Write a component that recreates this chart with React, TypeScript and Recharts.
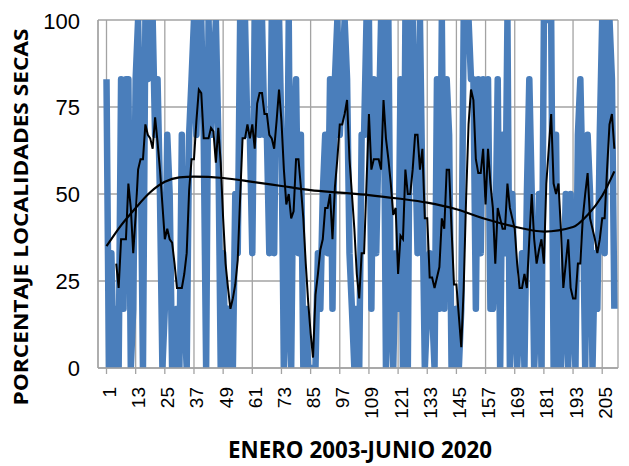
import React from 'react';
import { LineChart, Line, XAxis, YAxis, CartesianGrid, Customized } from 'recharts';

// Monthly share of dry localities, January 2003 to June 2020 (210 months)
const pctSecas: number[] = [
  83, 0, 33, 0, 17, 0, 83, 17, 83, 83,
  0, 17, 83, 100, 67, 0, 100, 83, 100, 100,
  67, 83, 50, 0, 17, 67, 50, 0, 0, 17,
  0, 67, 17, 0, 67, 83, 100, 67, 100, 100,
  67, 0, 100, 67, 83, 100, 67, 0, 33, 0,
  17, 0, 0, 50, 33, 100, 67, 100, 67, 67,
  33, 100, 100, 67, 100, 67, 67, 33, 100, 33,
  100, 100, 67, 0, 17, 100, 0, 67, 83, 33,
  67, 0, 17, 0, 0, 0, 0, 33, 17, 50,
  67, 33, 83, 17, 83, 100, 67, 83, 100, 83,
  33, 17, 0, 17, 0, 67, 67, 100, 100, 17,
  83, 33, 67, 100, 100, 0, 100, 17, 0, 33,
  17, 83, 0, 100, 0, 100, 100, 67, 33, 100,
  50, 0, 17, 33, 17, 0, 83, 17, 100, 17,
  83, 67, 0, 0, 17, 0, 17, 100, 100, 100,
  83, 83, 17, 83, 33, 83, 50, 83, 17, 17,
  33, 83, 0, 67, 33, 100, 0, 50, 17, 0,
  17, 33, 0, 50, 83, 50, 0, 17, 50, 0,
  100, 100, 100, 100, 0, 67, 0, 0, 17, 50,
  0, 50, 17, 0, 67, 83, 50, 0, 67, 50,
  0, 33, 17, 67, 100, 33, 100, 100, 83, 17,
];

// Moving average (black thin line); the first months have no value
const mediaMovil: (number | null)[] = [
  null, null, null, null, 30, 23, 37, 37, 37, 53,
  46, 33, 44, 57, 60, 60, 70, 67, 66, 63,
  72, 65, 57, 47, 37, 40, 37, 36, 30, 23,
  23, 23, 27, 33, 51, 60, 60, 71, 80, 79,
  66, 66, 66, 69, 68, 59, 69, 59, 43, 30,
  23, 17, 20, 24, 31, 49, 66, 66, 70, 66,
  70, 63, 76, 79, 79, 73, 73, 67, 66, 63,
  71, 80, 71, 57, 47, 50, 43, 45, 60, 60,
  52, 43, 30, 19, 10, 3, 21, 27, 34, 37,
  46, 46, 50, 37, 52, 60, 70, 70, 73, 77,
  60, 50, 40, 27, 20, 33, 33, 53, 73, 57,
  60, 60, 60, 57, 77, 66, 60, 53, 44, 46,
  27, 38, 37, 57, 50, 50, 57, 67, 67, 57,
  63, 43, 43, 26, 26, 23, 26, 29, 43, 40,
  57, 57, 40, 24, 24, 15, 6, 23, 49, 70,
  80, 77, 60, 56, 56, 63, 47, 63, 53, 46,
  30, 46, 43, 40, 40, 53, 46, 43, 40, 30,
  23, 23, 27, 23, 37, 50, 37, 30, 34, 37,
  30, 53, 63, 73, 53, 50, 53, 40, 23, 30,
  37, 23, 20, 20, 30, 30, 43, 50, 56, 43,
  40, 37, 33, 37, 43, 43, 57, 70, 73, 63,
];

// Long-term trend, sampled at selected months
const tendenciaMeses: number[] = [1, 7, 13, 19, 25, 31, 37, 49, 61, 73, 85, 97, 109, 121, 133, 145, 157, 169, 181, 193, 199, 205, 210];
const tendenciaValores: number[] = [35, 41, 46, 50.5, 53.5, 54.8, 55, 54.6, 53.5, 52.3, 51.1, 50.4, 49.7, 48.7, 47.5, 45.6, 42.8, 40.6, 39.2, 40.5, 44, 49.5, 56.5];

const xTicks: number[] = [1, 13, 25, 37, 49, 61, 73, 85, 97, 109, 121, 133, 145, 157, 169, 181, 193, 205];
const yTicks: number[] = [0, 25, 50, 75, 100];

const tituloX = 'ENERO 2003-JUNIO 2020';
const tituloY = 'PORCENTAJE LOCALIDADES SECAS';

const data = pctSecas.map((v, i) => {
  const mes = i + 1;
  const k = tendenciaMeses.indexOf(mes);
  return {
    mes,
    pct: v,
    media: mediaMovil[i],
    tendencia: k >= 0 ? tendenciaValores[k] : null,
  };
});

const GRID = '#A3A3A3';
const BLUE = '#4A7EBB';

const XTick = (props: any) => {
  const { x, y, payload } = props;
  return (
    <text
      transform={`translate(${x + 3},${y}) rotate(-90)`}
      textAnchor="end"
      dominantBaseline="central"
      fontFamily="Liberation Sans, Arial, sans-serif"
      fontSize={19}
      fill="#000"
    >
      {payload.value}
    </text>
  );
};

const Titles = () => (
  <g fontFamily="Open Sans, Liberation Sans, sans-serif" fontWeight="bold" fill="#000">
    <text
      x={352}
      y={450}
      textAnchor="middle"
      fontSize={23}
      textLength={264}
      lengthAdjust="spacingAndGlyphs"
    >
      {tituloX}
    </text>
    <text
      x={20}
      y={209}
      transform="rotate(-90 20 209)"
      textAnchor="middle"
      fontSize={20}
      textLength={377}
      lengthAdjust="spacingAndGlyphs"
    >
      {tituloY}
    </text>
  </g>
);

export default function App() {
  return (
    <LineChart
      width={621}
      height={458}
      data={data}
      margin={{ top: 12, right: 11, left: 0, bottom: 38 }}
    >
      <CartesianGrid stroke={GRID} strokeWidth={1.3} />
      <XAxis
        dataKey="mes"
        type="number"
        domain={[-2.5, 211.5]}
        ticks={xTicks}
        interval={0}
        height={60}
        tickSize={6}
        tickMargin={13}
        axisLine={{ stroke: GRID, strokeWidth: 1.3 }}
        tickLine={{ stroke: GRID, strokeWidth: 1.3 }}
        tick={<XTick />}
      />
      <YAxis
        type="number"
        domain={[0, 100]}
        ticks={yTicks}
        allowDataOverflow
        width={90}
        tickLine={false}
        tickMargin={12}
        axisLine={{ stroke: GRID, strokeWidth: 1.3 }}
        tick={{ fill: '#000', fontSize: 22, fontFamily: 'Liberation Sans, Arial, sans-serif' }}
      />
      <Line
        type="linear"
        dataKey="pct"
        stroke={BLUE}
        strokeWidth={6.5}
        strokeLinejoin="round"
        dot={false}
        activeDot={false}
        isAnimationActive={false}
      />
      <Line
        type="linear"
        dataKey="media"
        stroke="#000"
        strokeWidth={2}
        dot={false}
        activeDot={false}
        isAnimationActive={false}
      />
      <Line
        type="monotone"
        dataKey="tendencia"
        stroke="#000"
        strokeWidth={2.2}
        connectNulls
        dot={false}
        activeDot={false}
        isAnimationActive={false}
      />
      <Customized component={Titles} />
    </LineChart>
  );
}
